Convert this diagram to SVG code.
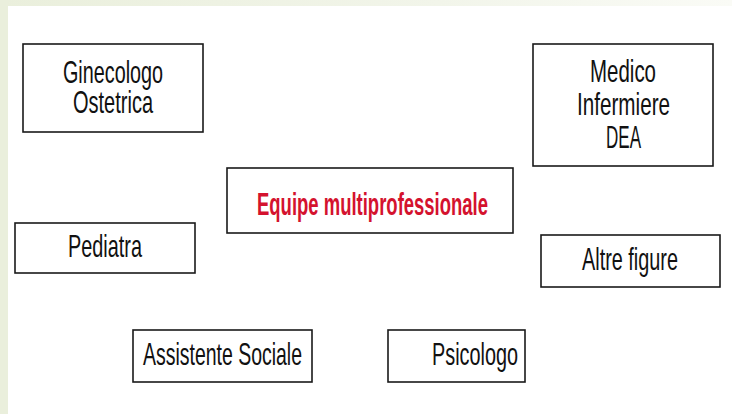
<svg xmlns="http://www.w3.org/2000/svg" width="732" height="414" viewBox="0 0 732 414">
<defs>
<linearGradient id="topg" x1="0" y1="0" x2="1" y2="0">
<stop offset="0" stop-color="#eaefdc"/>
<stop offset="0.6" stop-color="#f2f5ea"/>
<stop offset="1" stop-color="#fafbf6"/>
</linearGradient>
<style>
.box{fill:#ffffff;stroke:#1a1a1a;stroke-width:1.6}
.t{font-family:"Liberation Sans",Arial,sans-serif;font-size:32px;fill:#111111;text-anchor:start}
.r{font-family:"Liberation Sans",Arial,sans-serif;font-size:31px;font-weight:bold;fill:#d4122e;text-anchor:start}
</style>
</defs>
<rect x="0" y="0" width="732" height="414" fill="url(#topg)"/>
<rect x="0" y="0" width="8" height="414" fill="#eaefdc"/>
<rect x="8" y="6" width="724" height="408" fill="#ffffff"/>
<g id="ginecologo">
<rect class="box" x="23" y="44" width="180" height="88"/>
<text class="t" x="63" y="83" textLength="100" lengthAdjust="spacingAndGlyphs">Ginecologo</text>
<text class="t" x="73" y="113" textLength="80" lengthAdjust="spacingAndGlyphs">Ostetrica</text>
</g>
<g id="medico">
<rect class="box" x="533" y="44" width="180" height="122"/>
<text class="t" x="590" y="82" textLength="66" lengthAdjust="spacingAndGlyphs">Medico</text>
<text class="t" x="577" y="115" textLength="93" lengthAdjust="spacingAndGlyphs">Infermiere</text>
<text class="t" x="606" y="148" textLength="35" lengthAdjust="spacingAndGlyphs">DEA</text>
</g>
<g id="equipe">
<rect class="box" x="227" y="168" width="286" height="65"/>
<text class="r" x="257" y="215" textLength="231" lengthAdjust="spacingAndGlyphs">Equipe multiprofessionale</text>
</g>
<g id="pediatra">
<rect class="box" x="15" y="223" width="180" height="50"/>
<text class="t" x="68" y="257" textLength="74" lengthAdjust="spacingAndGlyphs">Pediatra</text>
</g>
<g id="altre">
<rect class="box" x="541" y="235" width="179" height="52"/>
<text class="t" x="582" y="270" textLength="96" lengthAdjust="spacingAndGlyphs">Altre figure</text>
</g>
<g id="assistente">
<rect class="box" x="133" y="330" width="179" height="52"/>
<text class="t" x="143" y="365" textLength="159" lengthAdjust="spacingAndGlyphs">Assistente Sociale</text>
</g>
<g id="psicologo">
<rect class="box" x="388" y="330" width="137" height="52"/>
<text class="t" x="432" y="365" textLength="86" lengthAdjust="spacingAndGlyphs">Psicologo</text>
</g>
<g id="connectors"></g>
</svg>
